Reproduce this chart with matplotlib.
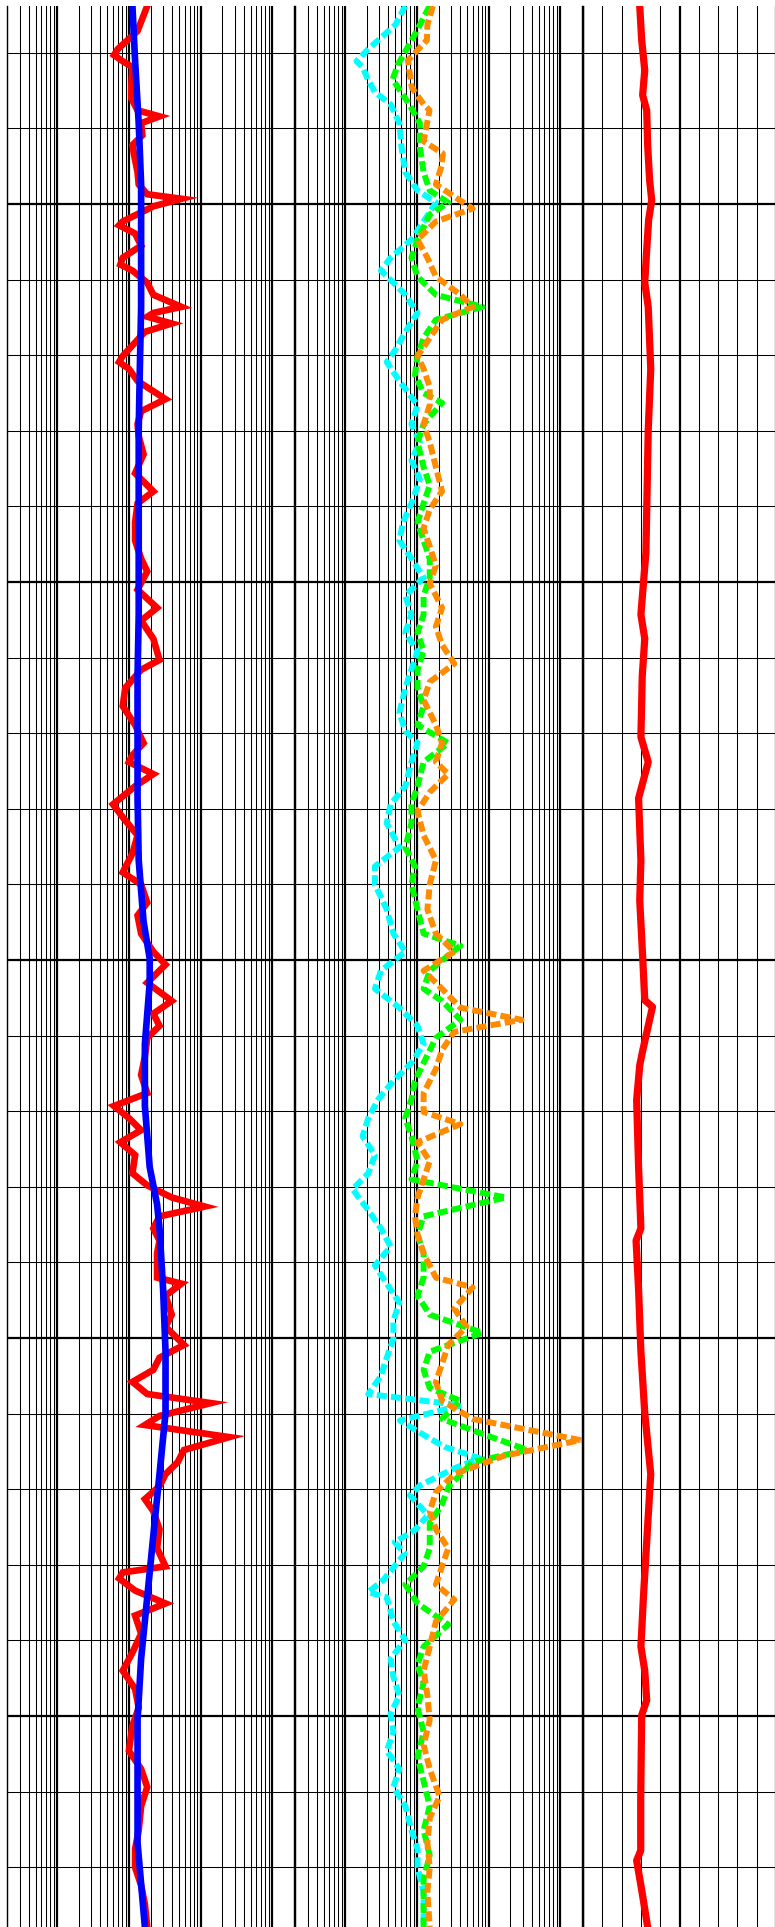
import matplotlib
matplotlib.use("Agg")
import matplotlib.pyplot as plt
from matplotlib.ticker import LogLocator, MultipleLocator, NullFormatter

# ---------------- data (depth in arbitrary units, increasing downward) ----------------
# Track 1: red (resistivity-like, log) and blue (smooth, log)
red1_depth = [1023.8, 1027.1, 1029.5, 1030.3, 1031.1, 1031.9, 1034.4, 1036.0, 1037.6, 1038.4,
              1039.3, 1040.9, 1042.2, 1043.3, 1045.8, 1047.4, 1048.7, 1049.3, 1050.3, 1052.3,
              1052.8, 1053.9, 1055.5, 1057.1, 1058.0, 1058.8, 1060.4, 1062.0, 1063.6, 1064.4,
              1064.9, 1065.8, 1066.9, 1070.1, 1070.9, 1071.8, 1073.4, 1075.8, 1077.4, 1079.1,
              1080.7, 1083.1, 1085.6, 1088.0, 1089.6, 1092.1, 1094.5, 1096.9, 1098.6, 1101.0,
              1103.4, 1105.1, 1107.5, 1110.3, 1111.6, 1114.0, 1116.4, 1118.9, 1121.3, 1122.9,
              1123.8, 1125.4, 1127.0, 1129.4, 1131.1, 1133.5, 1135.9, 1138.4, 1140.0, 1142.4,
              1144.1, 1146.5, 1148.9, 1150.6, 1153.0, 1155.4, 1157.1, 1158.7, 1160.3, 1162.8,
              1165.2, 1167.6, 1169.3, 1170.9, 1172.5, 1174.1, 1175.8, 1178.2, 1179.8, 1181.4,
              1182.6, 1183.9, 1185.5, 1187.1, 1188.8, 1192.0, 1192.8, 1194.4, 1196.9, 1198.5,
              1200.9, 1202.6, 1204.2, 1205.8, 1207.4, 1208.6, 1210.3, 1211.5, 1213.1, 1214.8,
              1216.4, 1218.0, 1219.6, 1221.3, 1222.9, 1225.3, 1227.8, 1230.2, 1231.0, 1231.8,
              1233.4, 1235.1, 1236.7, 1239.1, 1241.6, 1244.0, 1246.4, 1248.9, 1251.3, 1254.6,
              1257.0, 1259.4, 1261.9, 1265.1, 1267.6, 1270.0, 1272.4, 1274.9, 1277.9]
red1_vals = [18, 13.2, 7.0, 6.2, 8.2, 11.2, 10.8, 10.8, 13.2, 26.7,
             14.8, 15.4, 11.2, 11.7, 13.2, 13.7, 18, 54, 21.9, 8.2,
             7.3, 12.2, 14.8, 8.2, 7.6, 11.2, 18, 21.9, 54, 21.9,
             18, 39.5, 16.7, 8.2, 7.3, 10, 13.2, 32.4, 14.8, 13.2,
             13.7, 16.0, 12.2, 21.9, 13.2, 12.2, 12.2, 14.8, 18, 13.2,
             24.7, 14.8, 21.9, 26.7, 14.8, 8.9, 8.2, 12.2, 16, 11.2,
             10, 21.9, 12.2, 6.0, 8.2, 13.2, 11.2, 8.2, 14.8, 18,
             13.2, 14.8, 21.9, 32.4, 18, 39.5, 21.9, 26.7, 18, 16.7,
             14.8, 18, 6.2, 10, 14.8, 7.6, 12.2, 11.2, 18, 39.5,
             114, 26.7, 21.9, 26.7, 24.7, 24.7, 54, 32.4, 39.5, 32.4,
             58.6, 26.7, 21.9, 11.2, 18, 139, 26.7, 16.7, 250, 58.6,
             48, 32.4, 26.7, 16.7, 21.9, 26.7, 24.7, 32.4, 8.2, 7.3,
             12.2, 32.4, 12.2, 14.8, 11.2, 8.2, 12.2, 13.7, 11.2, 10,
             14.8, 18, 14.8, 13.7, 12.2, 12.2, 14.8, 16.7, 18]

blue_depth = [1023.8, 1031.1, 1039.3, 1047.4, 1055.5, 1063.6, 1071.8, 1079.9, 1088.0, 1096.1,
              1104.3, 1112.4, 1120.5, 1128.6, 1136.8, 1144.9, 1149.8, 1153.0, 1161.1, 1169.3,
              1177.4, 1182.3, 1185.5, 1193.6, 1201.8, 1209.9, 1218.0, 1226.1, 1234.3, 1242.4,
              1250.5, 1258.6, 1266.8, 1277.9]
blue_vals = [11.2, 12.2, 13.7, 14.8, 14.8, 14.8, 14.2, 13.7, 13.7, 13.7,
             13.7, 13.2, 13.2, 13.2, 13.7, 16, 19.5, 19.5, 16.7, 16.7,
             19.5, 24.7, 26.7, 30, 32.4, 32.4, 26.7, 21.9, 18, 14.8,
             13.2, 13.2, 13.2, 16.7]

# Track 2: three dashed curves (log)
cyan_depth = [1023.8, 1026.3, 1029.5, 1031.1, 1031.9, 1033.6, 1035.2, 1036.8, 1039.3, 1042.5,
              1045.8, 1048.2, 1049.8, 1052.3, 1054.7, 1057.1, 1058.8, 1060.4, 1062.0, 1064.4,
              1066.9, 1069.3, 1070.9, 1073.4, 1076.6, 1079.1, 1081.5, 1083.9, 1086.4, 1089.6,
              1092.1, 1094.5, 1096.9, 1099.4, 1101.8, 1104.3, 1106.7, 1109.1, 1111.6, 1114.0,
              1117.3, 1119.7, 1121.3, 1123.8, 1127.0, 1129.4, 1131.9, 1135.1, 1137.6, 1140.0,
              1143.3, 1146.5, 1148.9, 1151.4, 1153.8, 1156.3, 1158.7, 1161.1, 1163.6, 1166.0,
              1168.4, 1170.9, 1173.3, 1175.8, 1178.2, 1180.3, 1183.1, 1185.5, 1187.9, 1190.4,
              1192.8, 1195.3, 1197.7, 1200.1, 1202.6, 1205.0, 1207.4, 1208.9, 1210.9, 1212.9,
              1214.4, 1215.9, 1217.2, 1219.5, 1220.8, 1223.4, 1225.4, 1227.0, 1228.5, 1232.0,
              1233.6, 1234.3, 1237.5, 1239.9, 1242.4, 1244.8, 1247.3, 1249.7, 1252.1, 1254.6,
              1257.0, 1259.4, 1261.9, 1265.1, 1267.6, 1270.0, 1273.3, 1277.9]
cyan_vals = [6.9, 5.0, 2.1, 1.44, 1.75, 2.1, 2.6, 4.3, 5.7, 6.1,
             6.9, 10.2, 18.4, 12.4, 8.4, 4.3, 3.15, 4.7, 6.9, 10.2,
             6.9, 5.0, 3.8, 5.7, 10.2, 8.4, 11.0, 8.4, 11.0, 8.4,
             6.4, 5.7, 8.4, 12.4, 6.9, 8.4, 6.9, 10.2, 8.4, 6.9,
             5.7, 6.9, 10.2, 8.4, 6.9, 4.3, 3.8, 5.7, 2.6, 2.6,
             3.8, 4.7, 6.9, 3.15, 2.6, 5.7, 10.2, 12.4, 8.4, 4.7,
             2.9, 2.1, 1.75, 2.6, 2.1, 1.27, 2.1, 3.15, 4.3, 2.6,
             3.8, 5.7, 4.7, 4.7, 3.8, 3.15, 2.1, 42, 5.8, 12.9,
             24.5, 75, 33.8, 11, 8, 14.2, 9.4, 4.9, 6.8, 3.4,
             2.1, 3.8, 4.7, 6.9, 4.3, 4.7, 5.7, 4.3, 4.7, 3.8,
             5.7, 4.7, 6.9, 8.4, 10.2, 10.2, 12.4, 12.4]

green_depth = [1023.8, 1026.3, 1028.3, 1031.6, 1033.5, 1036.8, 1039.3, 1042.5, 1045.8, 1048.2,
               1049.8, 1051.4, 1054.7, 1057.1, 1059.6, 1062.0, 1063.6, 1065.3, 1067.7, 1070.1,
               1072.6, 1075.0, 1076.3, 1079.1, 1081.5, 1084.8, 1087.2, 1089.6, 1092.1, 1094.5,
               1096.9, 1099.4, 1101.8, 1104.3, 1106.7, 1109.1, 1111.6, 1114.0, 1116.4, 1118.9,
               1121.3, 1123.8, 1127.0, 1129.4, 1131.9, 1135.1, 1137.6, 1140.0, 1143.3, 1146.5,
               1148.1, 1151.4, 1153.8, 1155.4, 1157.9, 1160.3, 1163.6, 1166.0, 1168.4, 1170.9,
               1173.3, 1176.6, 1179.0, 1181.4, 1183.9, 1186.3, 1188.8, 1192.0, 1194.4, 1196.9,
               1199.3, 1201.8, 1204.2, 1206.6, 1208.3, 1210.7, 1212.8, 1214.8, 1216.4, 1219.6,
               1222.1, 1224.5, 1227.8, 1230.2, 1232.6, 1235.1, 1237.9, 1240.8, 1243.2, 1245.6,
               1248.9, 1252.1, 1255.4, 1258.6, 1261.9, 1265.1, 1268.4, 1271.6, 1274.9, 1277.9]
green_vals = [15, 11, 8.5, 5.4, 4.6, 7.8, 11, 11, 12.4, 15.1,
              27.3, 15.1, 10.2, 8.4, 10.2, 18.4, 82, 18.4, 12.4, 10.2,
              9.4, 12.4, 22.4, 12.4, 10.2, 12.4, 15.1, 12.4, 10.2, 12.4,
              15.1, 15.1, 12.4, 12.4, 10.2, 12.4, 10.2, 10.2, 12.4, 10.2,
              27.3, 12.4, 10.2, 8.4, 8.4, 6.9, 9.4, 8.4, 10.2, 12.4,
              40.4, 15.1, 12.4, 22.4, 40.4, 18.4, 12.4, 9.4, 8.4, 6.9,
              8.4, 10.2, 8.4, 173, 12.4, 10.2, 12.4, 12.4, 10.2, 15.1,
              82, 15.1, 12.4, 15.1, 40.4, 22.4, 89, 350, 60, 28,
              22, 15.1, 15.1, 12.4, 6.9, 10.2, 27.3, 12.4, 10.2, 12.4,
              10.2, 12.4, 10.2, 12.4, 15.1, 12.4, 15.1, 12.4, 12.4, 12.4]

orange_depth = [1023.8, 1026.3, 1028.3, 1031.0, 1034.6, 1036.8, 1037.6, 1041.7, 1043.3, 1045.0,
                1047.4, 1049.0, 1050.6, 1052.3, 1054.7, 1057.1, 1059.6, 1062.0, 1063.6, 1065.3,
                1067.7, 1070.1, 1071.8, 1074.2, 1076.6, 1079.1, 1081.5, 1084.8, 1088.0, 1090.4,
                1092.9, 1095.3, 1097.8, 1100.2, 1103.4, 1105.9, 1108.3, 1110.8, 1113.2, 1115.6,
                1118.9, 1121.3, 1123.8, 1125.4, 1127.8, 1130.3, 1133.5, 1136.8, 1140.0, 1143.3,
                1146.5, 1148.9, 1151.4, 1153.8, 1156.3, 1157.9, 1159.5, 1161.9, 1164.4, 1167.6,
                1170.1, 1171.7, 1174.1, 1176.6, 1179.0, 1181.4, 1183.9, 1186.3, 1188.8, 1192.0,
                1193.3, 1196.1, 1198.5, 1200.9, 1203.4, 1205.8, 1208.3, 1210.7, 1213.5, 1215.6,
                1218.0, 1220.4, 1222.9, 1225.3, 1227.8, 1230.2, 1232.6, 1234.6, 1237.5, 1240.8,
                1244.0, 1247.3, 1250.5, 1253.8, 1257.0, 1260.6, 1263.5, 1266.8, 1270.0, 1273.3,
                1277.9]
orange_vals = [16.7, 14, 13.8, 7.5, 8.5, 12.4, 15, 12.4, 23, 22,
               18.4, 33, 60, 18.4, 10.2, 14, 18.4, 40.4, 60, 22.4,
               15.1, 10.2, 12.4, 15.1, 15.1, 12.4, 15.1, 18.4, 22.4, 15.1,
               12.4, 15.1, 18.4, 15.1, 22.4, 18.4, 22.4, 33.2, 15.1, 12.4,
               18.4, 22.4, 18.4, 27.3, 15.1, 10.2, 12.4, 18.4, 15.1, 14,
               18.4, 33.2, 12.4, 22.4, 40.4, 288, 33.2, 22.4, 18.4, 12.4,
               12.4, 40.4, 10.2, 15.1, 12.4, 10.2, 9.4, 10.2, 12.4, 18.4,
               60, 33.2, 49.2, 27.3, 22.4, 18.4, 22.4, 60, 1900, 160,
               33.2, 18.4, 15.1, 18.4, 27.3, 22.4, 18.4, 33.2, 18.4, 15.1,
               12.4, 14, 15.1, 12.4, 15.1, 20.7, 15.1, 14, 15.1, 14,
               15.1]

# Track 3: red curve (linear scale 0-100)
red3_depth = [1023.8, 1028.3, 1032.3, 1035.6, 1037.6, 1042.2, 1046.8, 1049.5, 1052.1, 1056.1,
              1060.4, 1063.6, 1071.8, 1079.9, 1088.0, 1096.1, 1104.3, 1107.5, 1112.4, 1120.5,
              1123.8, 1128.6, 1136.8, 1142.1, 1150.0, 1155.3, 1156.2, 1161.9, 1163.9, 1168.5,
              1177.4, 1185.5, 1187.1, 1193.6, 1201.8, 1209.9, 1218.0, 1226.1, 1234.3, 1240.8,
              1244.0, 1247.9, 1249.9, 1261.1, 1267.8, 1269.1, 1273.0, 1277.9]
red3_vals = [29.4, 30.4, 32, 30.9, 33, 33.5, 34.5, 35.6, 34, 33,
             32, 33.8, 35.1, 33.8, 33.2, 32.6, 30, 32, 30.7, 30,
             33.8, 28.8, 30, 29.4, 31, 32, 36, 31, 29.4, 27.8,
             28.8, 30, 27.5, 28.8, 30, 32, 35.1, 33.2, 31.3, 30,
             32, 33, 30.4, 29.9, 29.9, 27.8, 30.4, 33.5]

log_range = (0.2, 2000)
lin_range = (0, 100)
depth_range = (1277.9, 1023.8)

# ---------------- figure ----------------
W, H = 775, 1927
fig = plt.figure(figsize=(W / 100, H / 100), dpi=100)
fig.patch.set_facecolor("white")
top_px = 6


def add_track(x0, x1):
    return fig.add_axes([x0 / W, 0, (x1 - x0) / W, 1 - top_px / H])


ax1 = add_track(7, 294)
ax2 = add_track(295, 582)
ax3 = add_track(583, 776)

for ax in (ax1, ax2, ax3):
    ax.set_ylim(*depth_range)
    ax.yaxis.set_major_locator(MultipleLocator(50))
    ax.yaxis.set_minor_locator(MultipleLocator(10))
    ax.set_axisbelow(True)
    ax.tick_params(which="both", length=0, labelleft=False, labelbottom=False,
                   labelright=False, labeltop=False)
    ax.grid(which="major", axis="both", color="black", lw=1.6)
    ax.grid(which="minor", axis="both", color="black", lw=0.75)
    for s in ("top", "bottom"):
        ax.spines[s].set_visible(False)
    for s in ("left", "right"):
        ax.spines[s].set_color("black")
        ax.spines[s].set_linewidth(1.0)

for ax in (ax1, ax2):
    ax.set_xscale("log")
    ax.set_xlim(*log_range)
    ax.xaxis.set_major_locator(LogLocator(base=10, numticks=100))
    ax.xaxis.set_minor_locator(LogLocator(base=10, subs=[2, 3, 4, 5, 6, 7, 8, 9], numticks=100))
    ax.xaxis.set_minor_formatter(NullFormatter())

ax3.set_xlim(*lin_range)
ax3.xaxis.set_major_locator(MultipleLocator(50))
ax3.xaxis.set_minor_locator(MultipleLocator(10))

# Track 1 curves
ax1.plot(red1_vals, red1_depth, color="#ff0000", lw=4.8, solid_joinstyle="miter", zorder=3)
ax1.plot(blue_vals, blue_depth, color="#0000ff", lw=4.8, zorder=4)

# Track 2 curves
dash = (1.7, 0.7)
ax2.plot(cyan_vals, cyan_depth, color="#00ffff", lw=4.3, dashes=dash, zorder=3)
ax2.plot(green_vals, green_depth, color="#00ff00", lw=4.3, dashes=dash, zorder=4)
ax2.plot(orange_vals, orange_depth, color="#ff8c00", lw=4.3, dashes=dash, zorder=5)

# Track 3 curve
ax3.plot(red3_vals, red3_depth, color="#ff0000", lw=5.2, zorder=3)

fig.savefig("out.png", dpi=100, facecolor="white")
